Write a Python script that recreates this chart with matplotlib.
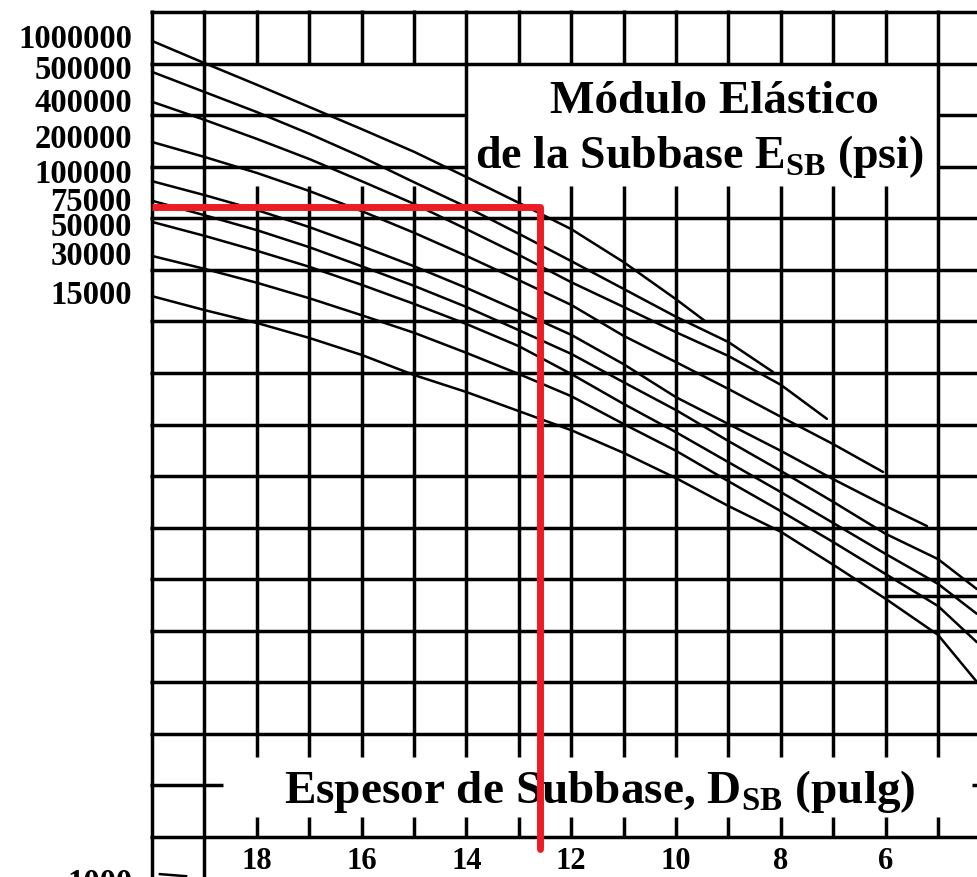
import matplotlib
matplotlib.use("Agg")
import matplotlib.pyplot as plt
import numpy as np

plt.rcParams['font.family'] = ['Liberation Serif', 'DejaVu Serif']
plt.rcParams['font.weight'] = 'bold'
plt.rcParams['mathtext.fontset'] = 'custom'
plt.rcParams['mathtext.rm'] = 'Liberation Serif:bold'
plt.rcParams['mathtext.bf'] = 'Liberation Serif:bold'

# ---------------- data ----------------
# curve labels (subbase elastic modulus, psi) and their label heights
curve_labels = ["1000000", "500000", "400000", "200000", "100000",
                "75000", "50000", "30000", "15000"]
label_y = [15.48, 14.88, 14.24, 13.54, 12.86, 12.32, 11.85, 11.27, 10.53]

# thickness (in) and chart ordinate (grid units) for each curve
d_1000000 = [20, 19, 18, 17, 16, 15, 14, 13, 12, 11, 10, 9.45]
y_1000000 = [15.44, 15.01, 14.59, 14.16, 13.73, 13.29, 12.80, 12.30, 11.79, 11.15, 10.43, 10.01]

d_500000 = [20, 19, 18, 17, 16, 15, 14, 13, 12, 11, 10, 9, 8.15]
y_500000 = [14.84, 14.45, 14.06, 13.64, 13.19, 12.70, 12.22, 11.70, 11.17, 10.63, 10.09, 9.60, 9.02]

d_400000 = [20, 19, 18, 17, 16, 15, 14, 13, 12, 11, 10, 9, 8, 7.12]
y_400000 = [14.26, 13.91, 13.54, 13.15, 12.72, 12.28, 11.79, 11.29, 10.76, 10.28, 9.79, 9.33, 8.77, 8.11]

d_200000 = [20, 19, 18, 17, 16, 15, 14, 13, 12, 11, 10, 9, 8, 7, 6.05]
y_200000 = [13.48, 13.19, 12.88, 12.53, 12.14, 11.72, 11.27, 10.80, 10.32, 9.72, 9.21, 8.69, 8.15, 7.62, 7.08]

d_100000 = [20, 19, 18, 17, 16, 15, 14, 13, 12, 11, 10, 9, 8, 7, 6, 5.21]
y_100000 = [12.72, 12.45, 12.16, 11.83, 11.46, 11.07, 10.65, 10.20, 9.74, 9.17, 8.53, 8.01, 7.49, 6.94, 6.42, 6.03]

d_75000 = [20, 19, 18, 17, 16, 15, 14, 13, 12, 11, 10, 9, 8, 7, 6, 5, 4.26]
y_75000 = [12.34, 12.06, 11.77, 11.44, 11.07, 10.69, 10.28, 9.83, 9.37, 8.82, 8.28, 7.68, 7.10, 6.50, 5.88, 5.39, 4.81]

d_50000 = [20, 19, 18, 17, 16, 15, 14, 13, 12, 11, 10, 9, 8, 7, 6, 5, 4.26]
y_50000 = [11.93, 11.66, 11.37, 11.06, 10.71, 10.34, 9.95, 9.52, 8.98, 8.40, 7.85, 7.27, 6.69, 6.09, 5.49, 4.91, 4.33]

d_30000 = [20, 19, 18, 17, 16, 15, 14, 13, 12, 11, 10, 9, 8, 7, 6, 5, 4.26]
y_30000 = [11.27, 11.02, 10.75, 10.45, 10.12, 9.78, 9.39, 8.98, 8.55, 8.01, 7.49, 6.90, 6.32, 5.72, 5.10, 4.48, 3.78]

d_15000 = [20, 19, 18, 17, 16, 15, 14, 13, 12, 11, 10, 9, 8, 7, 6, 5, 4.26]
y_15000 = [10.49, 10.22, 9.97, 9.68, 9.35, 8.96, 8.63, 8.26, 7.89, 7.45, 6.96, 6.42, 5.92, 5.28, 4.62, 3.92, 3.01]

# roadbed modulus line start (lower quadrant), label
mr_label = "1000"
mr_label_y = -0.89
d_mr1000 = [19.85, 19.35]
y_mr1000 = [-0.72, -0.76]

# red reading lines: E_SB = 75000 psi -> D_SB
red_d = 12.6
red_y = 12.22
red_bottom = -0.23

# x tick labels
xtick_vals = [18, 16, 14, 12, 10, 8, 6]

curves = [(d_1000000, y_1000000), (d_500000, y_500000), (d_400000, y_400000),
          (d_200000, y_200000), (d_100000, y_100000), (d_75000, y_75000),
          (d_50000, y_50000), (d_30000, y_30000), (d_15000, y_15000)]

# ---------------- figure ----------------
W, H = 977, 878
fig = plt.figure(figsize=(W / 100, H / 100), dpi=100)
PX_X = 52.4   # pixels per inch of thickness
PX_Y = 51.56  # pixels per grid row
x_left_px = 140
ax = fig.add_axes([x_left_px / W, 0, (W - x_left_px) / W, 1])
ax.set_xlim(20 + (152 - x_left_px) / PX_X, 20 - (W - 152) / PX_X)
ax.set_ylim(-(H - 838) / PX_Y, 838 / PX_Y)
for s in ax.spines.values():
    s.set_visible(False)
ax.set_xticks([])
ax.set_yticks([])

XMIN = ax.get_xlim()[1]
YBOT = ax.get_ylim()[0]
glw = 2.5
gkw = dict(color='black', lw=glw, solid_capstyle='butt', zorder=2)

# vertical grid lines
for d in range(20, 4, -1):
    if d in (20, 19):
        ax.plot([d, d], [YBOT, 16.03], **gkw)
        continue
    if d in (14, 5):
        ax.plot([d, d], [2, 16.03], **gkw)
    else:
        ax.plot([d, d], [2, 12], **gkw)
        ax.plot([d, d], [12, 12.62], **gkw)
        ax.plot([d, d], [15, 16.03], **gkw)
    # ticks of the bottom scale box
    ax.plot([d, d], [2, 1.55], **gkw)
    ax.plot([d, d], [0, 0.39], **gkw)

# horizontal grid lines
for r in range(0, 17):
    if r == 1:
        ax.plot([20.03, 18.65], [r, r], **gkw)
        ax.plot([4.35, XMIN], [r, r], **gkw)
    elif r in (13, 14):
        ax.plot([20.03, 14], [r, r], **gkw)
        ax.plot([5, XMIN], [r, r], **gkw)
    else:
        ax.plot([20.03, XMIN], [r, r], **gkw)
ax.plot([6, XMIN], [4.67, 4.67], **gkw)

# curves
for d, y in curves:
    ax.plot(d, y, color='black', lw=1.8, zorder=3, solid_capstyle='round',
            solid_joinstyle='round')
ax.plot(d_mr1000, y_mr1000, color='black', lw=1.8, zorder=3)

# red reading lines
ax.plot([20, red_d], [red_y, red_y], color='#ED1C24', lw=5, zorder=5,
        solid_capstyle='butt')
ax.plot([red_d, red_d], [red_y, red_bottom], color='#ED1C24', lw=5, zorder=5,
        solid_capstyle='round')

# curve labels, right-aligned left of the chart
lab_x = 20 + (152 - 132) / PX_X
for lab, yy in zip(curve_labels + [mr_label], label_y + [mr_label_y]):
    ax.text(lab_x, yy, lab, ha='right', va='center', fontsize=23.5,
            fontweight='bold', clip_on=False, zorder=4)

# x tick labels
for v in xtick_vals:
    ax.text(v, -0.45, str(v), ha='center', va='center', fontsize=22,
            fontweight='bold', zorder=4)

# titles
ax.text(9.26, 14.06, "Módulo Elástico", ha='center', va='baseline',
        fontsize=34, fontweight='bold', zorder=4)
ax.text(9.56, 12.99, r"de la Subbase E$_{\mathrm{SB}}$ (psi)", ha='center',
        va='baseline', fontsize=33, fontweight='bold', zorder=4)
ax.text(11.45, 0.68, r"Espesor de Subbase, D$_{\mathrm{SB}}$ (pulg)",
        ha='center', va='baseline', fontsize=34, fontweight='bold', zorder=4)

fig.savefig("out.png", dpi=100, facecolor='white')
